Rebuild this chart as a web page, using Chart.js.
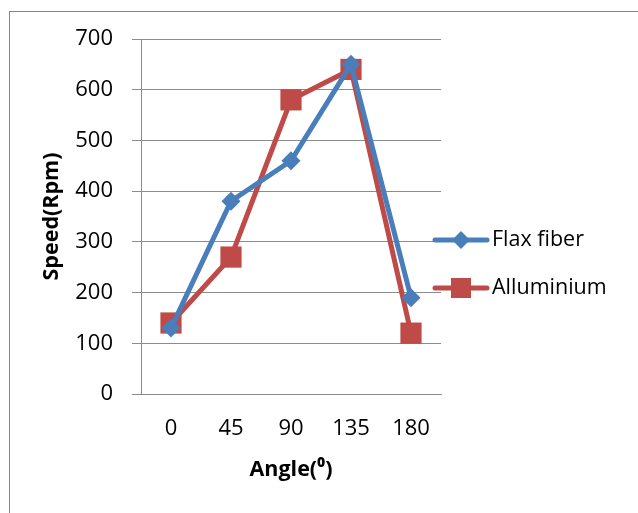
<!DOCTYPE html>
<html>
<head>
<meta charset="utf-8">
<script src="https://cdn.jsdelivr.net/npm/chart.js@4/dist/chart.umd.min.js"></script>
<style>
  html, body { margin: 0; padding: 0; background: #fff; }
  #wrap { position: relative; width: 638px; height: 513px; }
</style>
</head>
<body>
<div id="wrap"><canvas id="speedChart" width="638" height="513"></canvas></div>
<script>
const angles = ['0', '45', '90', '135', '180'];
const flaxFiber = [130, 380, 460, 650, 190];
const alluminium = [140, 270, 580, 640, 120];
const yTicks = [0, 100, 200, 300, 400, 500, 600, 700];

const FONT = "'Open Sans', 'Liberation Sans', sans-serif";
const BLUE = '#4A7EBB';
const RED = '#BE4B48';

// outer frame + legend drawn by hand (line with marker like the office style)
const framePlugin = {
    id: 'frame',
    beforeDraw(chart) {
        const ctx = chart.ctx;
        ctx.save();
        ctx.strokeStyle = '#868686';
        ctx.lineWidth = 1;
        ctx.strokeRect(9.5, 11.5, 700, 600);
        ctx.restore();
    },
    afterDraw(chart) {
        const ctx = chart.ctx;
        const rows = [240, 288];
        ctx.save();
        chart.data.datasets.forEach(function (ds, i) {
            const y = rows[i];
            ctx.strokeStyle = ds.borderColor;
            ctx.lineWidth = 5;
            ctx.lineCap = 'round';
            ctx.beginPath();
            ctx.moveTo(435, y);
            ctx.lineTo(487, y);
            ctx.stroke();
            ctx.fillStyle = ds.backgroundColor;
            if (ds.pointStyle === 'rectRot') {
                ctx.beginPath();
                ctx.moveTo(461, y - 9);
                ctx.lineTo(470, y);
                ctx.lineTo(461, y + 9);
                ctx.lineTo(452, y);
                ctx.closePath();
                ctx.fill();
            } else {
                ctx.fillRect(451, y - 10, 20, 20);
            }
            ctx.fillStyle = '#000';
            ctx.font = '21.5px ' + FONT;
            ctx.textAlign = 'left';
            ctx.textBaseline = 'middle';
            ctx.fillText(ds.label, 492, y);
        });
        ctx.restore();
    }
};

new Chart(document.getElementById('speedChart'), {
    type: 'line',
    data: {
        labels: angles,
        datasets: [
            {
                label: 'Flax fiber',
                data: flaxFiber,
                borderColor: BLUE,
                backgroundColor: BLUE,
                borderWidth: 5,
                pointStyle: 'rectRot',
                pointRadius: 9.5,
                pointHoverRadius: 9.5,
                pointBorderWidth: 0,
                tension: 0,
            },
            {
                label: 'Alluminium',
                data: alluminium,
                borderColor: RED,
                backgroundColor: RED,
                borderWidth: 5,
                pointStyle: 'rect',
                pointRadius: 15,
                pointHoverRadius: 15,
                pointBorderWidth: 0,
                tension: 0,
            },
        ],
    },
    options: {
        responsive: false,
        animation: false,
        layout: {
            padding: { left: 0, top: 39, right: 197, bottom: 0 },
        },
        plugins: {
            legend: { display: false },
            tooltip: { enabled: false },
        },
        scales: {
            x: {
                offset: true,
                grid: { display: false, drawTicks: false },
                border: { display: true, color: '#8c8c8c', width: 1 },
                ticks: {
                    color: '#000',
                    padding: 22,
                    font: { family: FONT, size: 22 },
                },
                title: {
                    display: true,
                    text: 'Angle(⁰)',
                    color: '#000',
                    font: { family: FONT, size: 21.5, weight: 'bold' },
                    padding: { top: 0, bottom: 30 },
                },
                afterFit(scale) { scale.height = 119; },
            },
            y: {
                min: 0,
                max: 700,
                afterBuildTicks(scale) {
                    scale.ticks = yTicks.map(function (v) { return { value: v }; });
                },
                grid: { color: '#8c8c8c', lineWidth: 1, tickLength: 9, drawTicks: true },
                border: { display: true, color: '#8c8c8c', width: 1 },
                ticks: {
                    color: '#000',
                    padding: 19,
                    font: { family: FONT, size: 22 },
                },
                title: {
                    display: true,
                    text: 'Speed(Rpm)',
                    color: '#000',
                    font: { family: FONT, size: 21.5, weight: 'bold' },
                    padding: { top: 39, bottom: 0 },
                },
                afterFit(scale) { scale.width = 141; },
            },
        },
    },
    plugins: [framePlugin],
});
</script>
</body>
</html>
